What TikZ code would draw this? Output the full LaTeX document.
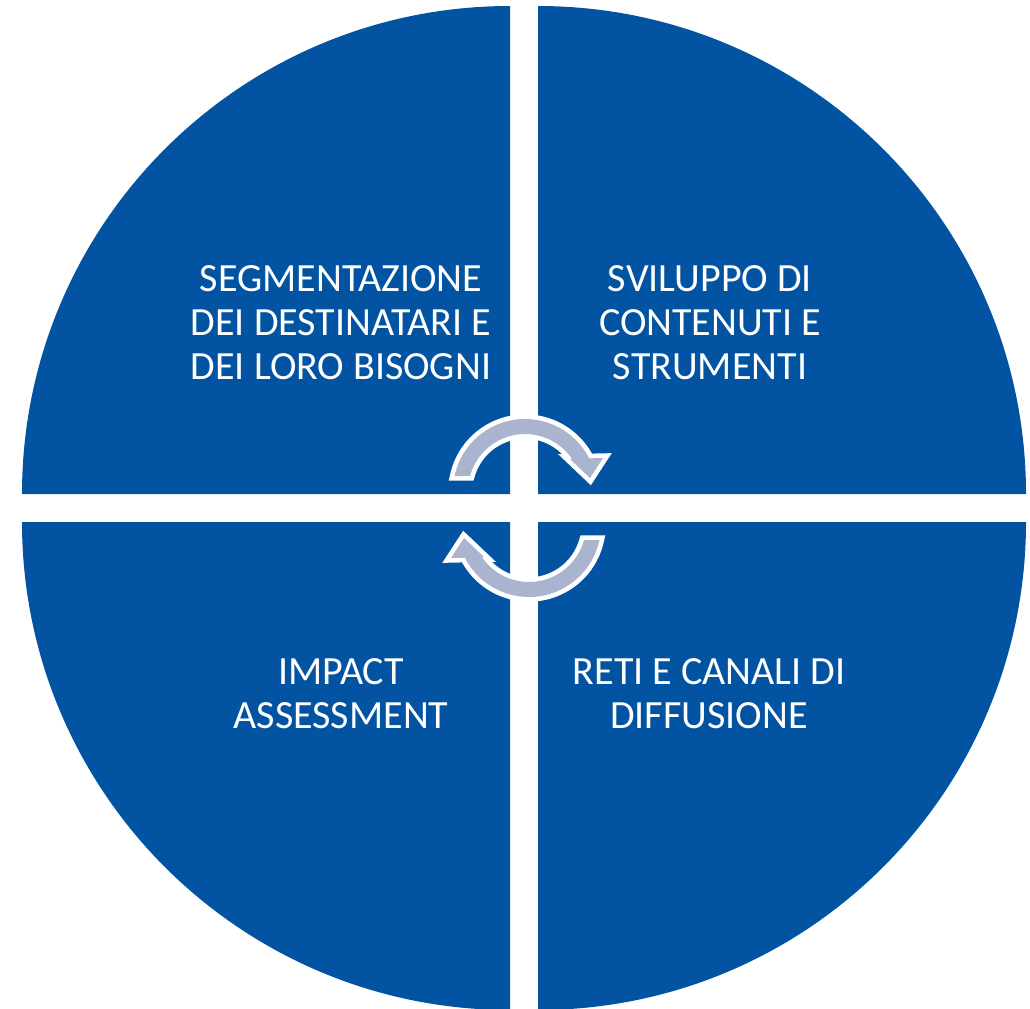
\documentclass[tikz,border=0pt]{standalone}
\usepackage{fontspec}
\setmainfont{Carlito}
\definecolor{quadblue}{RGB}{2,84,162}
\definecolor{arrowgray}{RGB}{170,180,206}
\begin{document}
\begin{tikzpicture}[x=0.75pt,y=-0.75pt,
  quad/.style={fill=quadblue},
  lbl/.style={text=white, align=center, font=\fontsize{30}{33}\selectfont, inner sep=0pt},
  cyclearrow/.style={fill=arrowgray, preaction={draw=white, line width=7pt}}]
\useasboundingbox (0,0) rectangle (1030,1008);
\fill[white] (0,0) rectangle (1030,1008);
% quadrants
\path[quad] (510,494) -- ++(180:488) arc[start angle=180, end angle=270, radius=488] -- cycle;
\path[quad] (538,494) -- ++(270:488) arc[start angle=270, end angle=360, radius=488] -- cycle;
\path[quad] (510,522) -- ++(90:488) arc[start angle=90, end angle=180, radius=488] -- cycle;
\path[quad] (538,522) -- ++(0:488) arc[start angle=0, end angle=90, radius=488] -- cycle;
% labels
\node[lbl] (seg) at (341,322.5) {SEGMENTAZIONE\\DEI DESTINATARI E\\DEI LORO BISOGNI};
\node[lbl] (svi) at (710,322.5) {SVILUPPO DI\\CONTENUTI E\\STRUMENTI};
\node[lbl] (imp) at (341,693.5) {IMPACT\\ASSESSMENT};
\node[lbl] (ret) at (709,693.5) {RETI E CANALI DI\\DIFFUSIONE};
% circular arrows
\path[cyclearrow] ([shift={(-168:72)}]525,491) arc[start angle=-168, end angle=-27, radius=72]
  -- (603,458) -- (590,478) -- (570,459)
  -- ([shift={(-34.1:57)}]525,491) arc[start angle=-34.1, end angle=-164.7, radius=57] -- cycle;
\begin{scope}[rotate around={180:(527,508)}]
\path[cyclearrow] ([shift={(-168:72)}]525,491) arc[start angle=-168, end angle=-27, radius=72]
  -- (603,458) -- (590,478) -- (570,459)
  -- ([shift={(-34.1:57)}]525,491) arc[start angle=-34.1, end angle=-164.7, radius=57] -- cycle;
\end{scope}
\end{tikzpicture}
\end{document}
